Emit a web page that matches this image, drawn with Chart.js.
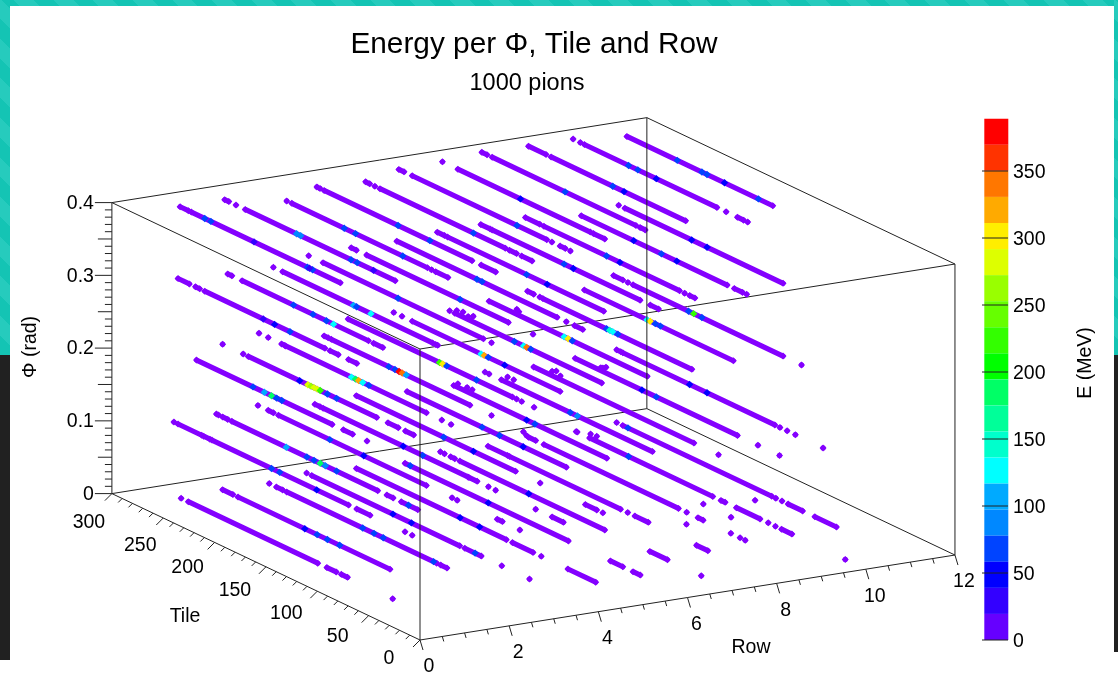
<!DOCTYPE html>
<html>
<head>
<meta charset="utf-8">
<title>Energy per Phi, Tile and Row</title>
<script src="https://cdn.jsdelivr.net/npm/chart.js@4/dist/chart.umd.min.js"></script>
<style>
  html, body { margin: 0; padding: 0; background: #fff; }
  #page { position: relative; width: 1118px; height: 678px; overflow: hidden; background: #fff; }
  .teal { position: absolute; background: repeating-linear-gradient(45deg, #14c4b4 0 14px, #26cbbd 14px 28px); }
  .dark { position: absolute; background: #212121; }
  canvas { position: absolute; left: 0; top: 0; }
</style>
</head>
<body>
<div id="page">
  <div class="teal" style="left:0;top:0;width:1118px;height:6px"></div>
  <div class="teal" style="left:0;top:0;width:10px;height:355px"></div>
  <div class="teal" style="left:1114px;top:0;width:4px;height:355px"></div>
  <div class="dark" style="left:0;top:355px;width:10px;height:305px"></div>
  <div class="dark" style="left:1114px;top:355px;width:4px;height:297px"></div>
  <canvas id="chart" width="1118" height="678"></canvas>
</div>
<script>
// [row, first tile, last tile] for each phi layer
const phi40 = [
  [1,277,269],[1,266,121],
  [2,277,273],[2,266,266],[2,257,111],
  [3,260,260],[3,255,123],[3,119,119],[3,115,103],
  [4,274,274],[4,271,271],[4,267,123],[4,114,100],
  [5,270,266],[5,261,261],[5,256,134],[5,130,123],[5,118,108],
  [6,281,276],[6,268,137],[6,132,132],[6,124,119],[6,114,114],
  [7,282,282],[7,267,138],[7,135,124],
  [8,287,282],[8,277,137],[8,133,128],
  [9,285,268],[9,263,132],
  [10,285,285],[10,278,278],[10,274,145],[10,136,136],[10,125,119],[10,115,115],
  [11,276,134]
];
const phi30 = [
  [1,279,268],[1,262,258],[1,253,136],[1,131,123],[1,113,105],
  [2,274,270],[2,260,137],[2,132,123],
  [3,273,273],[3,264,118],[3,115,113],
  [4,282,282],[4,268,112],[4,104,104],
  [5,284,279],[5,269,131],[5,107,107],
  [6,283,127],[6,118,118],[6,110,102],
  [7,287,280],[7,277,125],
  [8,288,279],[8,277,133],[8,123,115],
  [9,288,274],[9,270,138],[9,133,133],[9,128,123],
  [10,277,135],[10,128,120],[10,116,116],
  [11,284,284],[11,278,124]
];
const phi20 = [
  [1,261,129],[1,118,109],[1,95,95],
  [2,279,279],[2,259,259],[2,254,129],[2,118,108],[2,101,93],
  [3,287,287],[3,278,278],[3,265,262],[3,261,124],[3,109,109],[3,100,100],
  [4,267,263],[4,260,125],[4,104,104],
  [5,287,127],[5,123,123],[5,118,118],[5,106,106],
  [6,286,286],[6,278,278],[6,268,124],
  [7,275,275],[7,270,127],
  [8,280,126],
  [9,286,280],[9,274,274],[9,271,126],
  [10,274,129],
  [11,289,280],[11,275,275],[11,270,124],[11,106,106]
];
const phi10 = [
  [1,283,283],[1,279,256],[1,254,248],[1,246,113],[1,105,92],[1,58,58],[1,51,51],
  [2,285,283],[2,279,274],[2,270,128],[2,119,113],[2,105,89],
  [3,288,288],[3,278,273],[3,268,124],[3,99,99],[3,94,94],[3,55,50],[3,33,33],
  [4,276,271],[4,268,127],[4,126,118],[4,107,107],[4,100,100],[4,61,61],[4,45,34],
  [5,279,124],[5,100,100],[5,56,45],[5,39,39],
  [6,273,118],[6,1,1],
  [7,271,122],[7,28,28],[7,1,1],
  [8,284,284],[8,280,280],[8,268,121],[8,21,21],
  [9,280,124],[9,100,100],
  [10,283,125],[10,105,105],[10,84,84],
  [11,286,282],[11,280,132],[11,127,127],[11,120,120],[11,112,112],[11,85,85]
];
const phi00 = [
  [1,276,276],[1,269,143],[1,134,125],[1,120,114],[1,70,70],
  [2,279,269],[2,264,116],
  [3,277,277],[3,270,264],[3,260,114],[3,110,104],
  [4,284,284],[4,279,135],[4,130,114],[4,94,94],[4,67,67],
  [5,279,133],[5,127,107],[5,99,99],[5,73,46],
  [6,275,116],[6,75,63],[6,53,46],
  [7,284,284],[7,280,280],[7,274,270],[7,265,124],[7,80,63],[7,30,30],
  [8,281,262],[8,260,152],[8,145,145],[8,138,125],[8,78,67],
  [9,285,278],[9,270,139],[9,131,131],[9,120,115],[9,88,88],[9,79,79],[9,74,74],
  [10,282,281],[10,269,149],[10,141,137],[10,126,103],[10,95,95],[10,88,88],[10,82,72],[10,20,20],
  [11,286,286],[11,280,135],[11,131,131],[11,125,125],[11,119,105],[11,93,72]
];
const layers = [[0.4, phi40], [0.3, phi30], [0.2, phi20], [0.1, phi10], [0, phi00]];

// low energy blobs that sit a bit off the layer: [row, tile, phi]
const strayCells = [
  [7,268,0.205],[7,262,0.207],[7,257,0.204],[7,252,0.208],[8,251,0.205],[8,253,0.207],
  [10,256,0.105],[10,258,0.104],[10,253,0.108],[9,262,0.106],[9,258,0.109],[9,254,0.105],
  [7,267,0.105],[7,258,0.106],[7,253,0.106],[8,262,0.108],[8,256,0.108],
  [9,290,0.004],[9,287,0.001],[10,268,0.006],[10,262,0.007]
];

// cells that stand out from the purple: [row, tile, phi, energy in MeV]
const hotCells = [
  [1,253,0.4,60],[1,247,0.4,60],[1,205,0.4,30],[1,153,0.4,60],[1,148,0.4,60],[1,151,0.4,30],
  [2,207,0.4,95],[2,203,0.4,95],[2,154,0.4,70],[2,148,0.4,60],[2,132,0.4,30],
  [3,204,0.4,60],[3,193,0.4,60],[3,147,0.4,60],
  [4,195,0.4,70],[4,164,0.4,60],
  [5,165,0.4,60],[6,166,0.4,60],[7,206,0.4,40],[8,206,0.4,60],
  [9,203,0.4,60],[9,192,0.4,40],
  [10,231,0.4,60],[10,222,0.4,60],[10,204,0.4,40],
  [11,227,0.4,60],[11,203,0.4,60],[11,198,0.4,60],[11,181,0.4,40],[11,148,0.4,60],
  [1,196,0.3,30],[1,185,0.3,50],[1,170,0.3,60],
  [2,210,0.3,60],[2,191,0.3,60],[2,178,0.3,60],[2,171,0.3,120],
  [3,195,0.3,100],[3,192,0.3,60],[3,178,0.3,125],
  [4,195,0.3,60],[5,178,0.3,60],
  [6,205,0.3,60],[6,200,0.3,60],[7,200,0.3,60],[7,180,0.3,40],
  [8,207,0.3,60],[8,198,0.3,40],[9,209,0.3,60],[9,196,0.3,40],
  [10,226,0.3,40],[10,199,0.3,60],[10,184,0.3,40],
  [11,213,0.3,50],[11,198,0.3,50],
  [1,206,0.2,60],[1,195,0.2,110],[1,188,0.2,190],[1,178,0.2,60],[1,183,0.2,60],
  [2,204,0.2,40],[2,196,0.2,285],[2,193,0.2,265],[2,190,0.2,290],[2,187,0.2,280],[2,184,0.2,220],[2,177,0.2,70],[2,168,0.2,60],
  [3,197,0.2,125],[3,193,0.2,190],[3,190,0.2,330],[3,186,0.2,130],[3,180,0.2,70],
  [4,204,0.2,60],[4,198,0.2,60],[4,194,0.2,385],[4,191,0.2,335],[4,187,0.2,100],
  [5,198,0.2,230],[5,195,0.2,300],[5,191,0.2,70],[5,162,0.2,60],
  [6,201,0.2,120],[6,198,0.2,330],[6,194,0.2,70],[6,178,0.2,40],
  [7,212,0.2,60],[7,203,0.2,125],[7,200,0.2,345],[7,196,0.2,60],
  [8,207,0.2,130],[8,203,0.2,300],[8,199,0.2,60],
  [9,209,0.2,70],[9,206,0.2,140],[9,203,0.2,130],[9,198,0.2,60],
  [10,213,0.2,130],[10,210,0.2,295],[10,205,0.2,70],[10,200,0.2,60],
  [11,216,0.2,70],[11,211,0.2,230],[11,203,0.2,60],
  [1,188,0.1,60],[1,180,0.1,70],[1,144,0.1,40],
  [2,217,0.1,100],[2,197,0.1,60],[2,190,0.1,60],[2,184,0.1,190],[2,179,0.1,80],[2,168,0.1,60],[2,98,0.1,60],
  [3,218,0.1,60],[3,185,0.1,40],
  [4,171,0.1,60],[4,190,0.1,40],
  [5,194,0.1,60],[5,165,0.1,40],
  [6,200,0.1,60],[6,183,0.1,60],[6,160,0.1,40],
  [7,200,0.1,40],[7,192,0.1,70],
  [8,194,0.1,95],[8,201,0.1,60],
  [10,204,0.1,70],[10,218,0.1,40],
  [11,215,0.1,40],[11,198,0.1,40],
  [2,199,0,40],[2,187,0,60],[2,177,0,60],[2,165,0,60],
  [3,186,0,60],[3,175,0,60],[3,166,0,60],[3,117,0,60],
  [4,200,0,40],[4,182,0,50],[4,120,0,60],
  [5,178,0,50],[5,159,0,50],
  [6,270,0,60],[6,194,0,40],[7,198,0,40],
  [10,231,0,60],[11,275,0,65]
];

const phiTicks = [0, 0.1, 0.2, 0.3, 0.4];
const tileTicks = [0, 50, 100, 150, 200, 250, 300];
const rowTicks = [0, 2, 4, 6, 8, 10, 12];
const energyTicks = [0, 50, 100, 150, 200, 250, 300, 350];
const palette = [
  '#6600ff','#3300ff','#0000ff','#0044ff','#0088ff','#00aaff','#00ffff','#00ffcc','#00ff99','#00ff66',
  '#00ff00','#33ff00','#66ff00','#99ff00','#ddff00','#ffee00','#ffaa00','#ff7700','#ff3300','#ff0000'
];
const energyMax = 389;
const hitColor = '#8400ff';

// oblique projection of the box on to the page
function proj(row, tile, phi) {
  return {
    x: 420 + 44.58 * row - 1.027 * tile,
    y: 640 - 7.08 * row - 0.488 * tile - 727.5 * phi
  };
}
function energyY(e) { return 640 - e * 67 / 50; }
function colorOf(e) { return palette[Math.min(palette.length - 1, Math.floor(e / energyMax * palette.length))]; }

const gap = { x: NaN, y: NaN };
const hitPoints = [];
layers.forEach(([phi, runs]) => {
  runs.forEach(([row, t0, t1]) => {
    hitPoints.push(proj(row, t0, phi));
    if (t1 !== t0) hitPoints.push(proj(row, t1, phi));
    hitPoints.push(gap);
  });
});
strayCells.forEach(([row, tile, phi]) => {
  hitPoints.push(proj(row, tile, phi));
  hitPoints.push(gap);
});

function seg(list, a, b) { list.push(a, b, gap); }

// box edges
const backEdges = [];
seg(backEdges, proj(0, 0, 0), proj(12, 0, 0));
seg(backEdges, proj(0, 0, 0), proj(0, 300, 0));
seg(backEdges, proj(0, 300, 0), proj(12, 300, 0));
seg(backEdges, proj(12, 300, 0), proj(12, 0, 0));
seg(backEdges, proj(0, 300, 0), proj(0, 300, 0.4));
seg(backEdges, proj(12, 0, 0), proj(12, 0, 0.4));
seg(backEdges, proj(0, 300, 0.4), proj(12, 300, 0.4));
seg(backEdges, proj(12, 300, 0.4), proj(12, 0, 0.4));
seg(backEdges, proj(12, 0, 0.4), proj(0, 0, 0.4));
seg(backEdges, proj(0, 0, 0.4), proj(0, 300, 0.4));
const frontEdges = [];
seg(frontEdges, proj(0, 0, 0), proj(0, 0, 0.4));
seg(frontEdges, proj(12, 300, 0), proj(12, 300, 0.4));

// tick marks
const tickMarks = [];
for (let i = 0; i <= 40; i++) {
  const p = proj(0, 300, i / 100);
  const len = i % 10 === 0 ? 17 : (i % 5 === 0 ? 14 : 7);
  seg(tickMarks, { x: p.x - len, y: p.y }, p);
}
for (let t = 0; t <= 300; t += 10) {
  const p = proj(0, t, 0);
  const len = t % 50 === 0 ? 7 : 4;
  seg(tickMarks, { x: p.x - len, y: p.y + len }, p);
}
for (let r = 0; r <= 12; r += 0.5) {
  const p = proj(r, 0, 0);
  const major = r % 2 === 0;
  seg(tickMarks, { x: p.x + (major ? 3 : 1.5), y: p.y + (major ? 10 : 5) }, p);
}
energyTicks.forEach(e => {
  seg(tickMarks, { x: 982, y: energyY(e) }, { x: 1008, y: energyY(e) });
});

// colour bar, one thick line per band
const bandSets = palette.map((color, i) => ({
  data: [
    { x: 996.3, y: energyY(i * energyMax / palette.length) },
    { x: 996.3, y: energyY((i + 1) * energyMax / palette.length) }
  ],
  showLine: true,
  borderColor: color,
  borderWidth: 24,
  borderCapStyle: 'butt',
  pointRadius: 0,
  order: 6
}));

const textPlugin = {
  id: 'axisText',
  afterDatasetsDraw(chart) {
    const ctx = chart.ctx;
    const font = 'Liberation Sans, Arial, sans-serif';
    ctx.save();
    ctx.fillStyle = '#000';
    ctx.textBaseline = 'middle';
    ctx.textAlign = 'center';
    ctx.font = '29.8px ' + font;
    ctx.fillText('Energy per Φ, Tile and Row', 534, 45);
    ctx.font = '23.5px ' + font;
    ctx.fillText('1000 pions', 527, 84);

    ctx.font = '19.5px ' + font;
    tileTicks.forEach(t => {
      const p = proj(0, t, 0);
      const dx = t >= 250 ? -23 : t >= 200 ? -27 : -31;
      ctx.fillText(String(t), p.x + dx, p.y + 19 + t / 30);
    });
    rowTicks.forEach(r => {
      const p = proj(r, 0, 0);
      ctx.fillText(String(r), p.x + 9, p.y + 27);
    });
    ctx.fillText('Tile', 185, 617);
    ctx.fillText('Row', 751, 648);

    ctx.textAlign = 'right';
    phiTicks.forEach(v => {
      const p = proj(0, 300, v);
      ctx.fillText(v === 0 ? '0' : v.toFixed(1), p.x - 18, p.y + 1);
    });
    ctx.textAlign = 'left';
    energyTicks.forEach(e => ctx.fillText(String(e), 1013, energyY(e) + 2));

    ctx.textAlign = 'center';
    ctx.save();
    ctx.translate(31, 347);
    ctx.rotate(-Math.PI / 2);
    ctx.fillText('Φ (rad)', 0, 0);
    ctx.restore();
    ctx.save();
    ctx.translate(1086, 363);
    ctx.rotate(-Math.PI / 2);
    ctx.fillText('E (MeV)', 0, 0);
    ctx.restore();
    ctx.restore();
  }
};

new Chart(document.getElementById('chart'), {
  type: 'scatter',
  data: {
    datasets: [
      ...bandSets,
      { data: backEdges, showLine: true, borderColor: '#222', borderWidth: 1, pointRadius: 0, order: 5 },
      { data: tickMarks, showLine: true, borderColor: '#222', borderWidth: 1, pointRadius: 0, order: 4 },
      {
        label: 'hits',
        data: hitPoints,
        showLine: true,
        spanGaps: false,
        borderColor: hitColor,
        borderWidth: 5.2,
        borderCapStyle: 'round',
        pointStyle: 'rectRot',
        pointRadius: 3.5,
        pointBorderWidth: 0,
        pointBackgroundColor: hitColor,
        order: 3
      },
      {
        label: 'hot cells',
        data: hotCells.map(([row, tile, phi]) => proj(row, tile, phi)),
        pointStyle: 'rectRot',
        pointRadius: 3.7,
        pointBorderWidth: 0,
        pointBackgroundColor: hotCells.map(c => colorOf(c[3])),
        order: 2
      },
      { data: frontEdges, showLine: true, borderColor: '#222', borderWidth: 1, pointRadius: 0, order: 1 }
    ]
  },
  options: {
    responsive: false,
    animation: false,
    layout: { padding: 0, autoPadding: false },
    plugins: { legend: { display: false }, tooltip: { enabled: false } },
    scales: {
      x: { type: 'linear', min: 0, max: 1118, display: false },
      y: { type: 'linear', min: 0, max: 678, reverse: true, display: false }
    }
  },
  plugins: [textPlugin]
});
</script>
</body>
</html>
